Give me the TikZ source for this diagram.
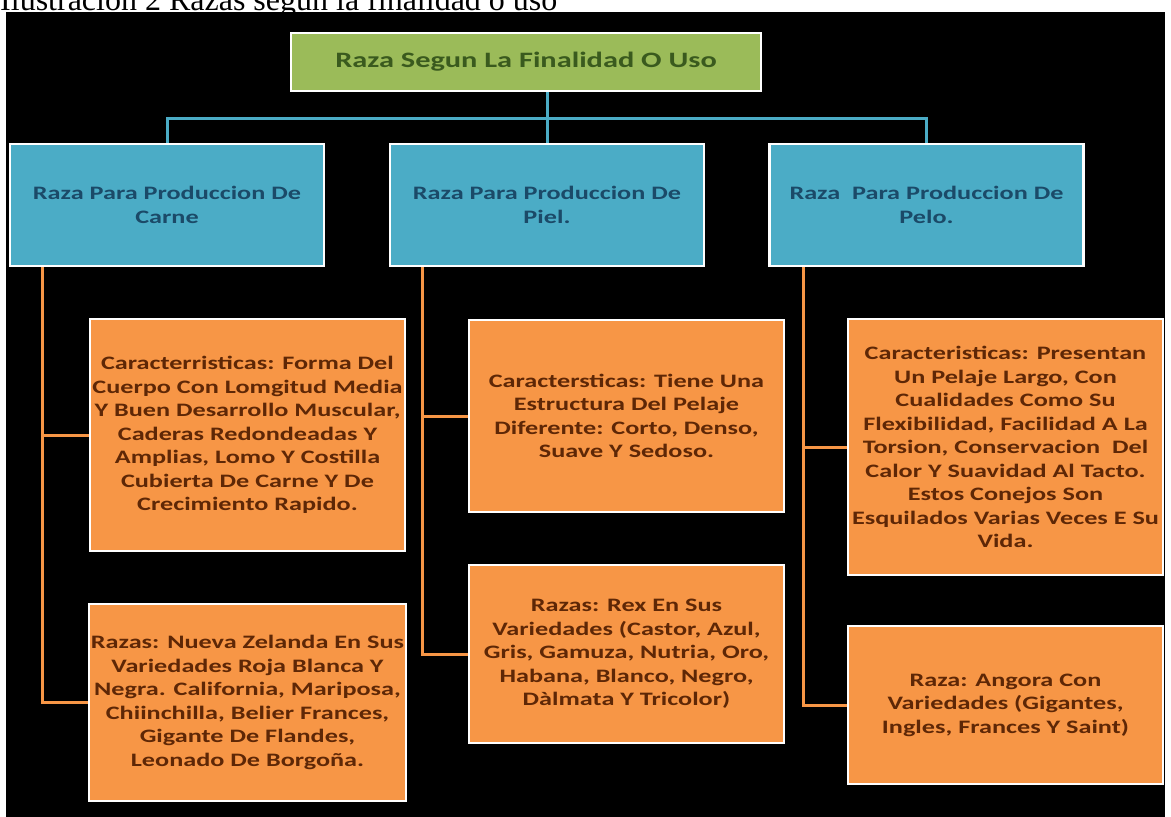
\documentclass[tikz,border=0pt]{standalone}
\usepackage{fontspec}
\newfontfamily\carl[FakeStretch=1.38]{Carlito}
\newfontfamily\capfont{Liberation Serif}
\definecolor{gfill}{HTML}{9BBB59}
\definecolor{bfill}{HTML}{4BACC6}
\definecolor{ofill}{HTML}{F79646}
\definecolor{gtext}{HTML}{3A5A1E}
\definecolor{btext}{HTML}{1B4A68}
\definecolor{otext}{HTML}{5E2706}
\tikzset{
  box/.style={rectangle, draw=white, line width=2.5pt, inner sep=2pt, align=center,
              font=\carl\bfseries\fontsize{19}{23.5}\selectfont},
  gbox/.style={box, fill=gfill, text=gtext, minimum width=470pt, minimum height=58pt,
               font=\carl\bfseries\fontsize{22}{26}\selectfont},
  bbox/.style={box, fill=bfill, text=btext, minimum width=314pt, minimum height=122pt},
  obox/.style={box, fill=ofill, text=otext, minimum width=315pt},
  bline/.style={draw=bfill, line width=3pt},
  oline/.style={draw=ofill, line width=3pt}
}
\begin{document}
\begin{tikzpicture}[x=1pt,y=-1pt]
\useasboundingbox (0,0) rectangle (1171,817);
\clip (0,0) rectangle (1171,817);
\fill[white] (0,0) rectangle (1171,817);
\node[anchor=base west, inner sep=0pt] (cap) at (0,10)
  {\capfont\fontsize{32}{36}\selectfont Ilustración 2 Razas según la finalidad o uso};
\fill[black] (6,12) rectangle (1165,817);

% nodes
\node[gbox] (g) at (526,62) {Raza Segun La Finalidad O Uso};
\node[bbox] (b1) at (167,205) {Raza Para Produccion De\\Carne};
\node[bbox] (b2) at (547,205) {Raza Para Produccion De\\Piel.};
\node[bbox] (b3) at (926.5,205) {Raza\ \ Para Produccion De\\Pelo.};

\node[obox, minimum height=232pt] (l1) at (247.5,435)
  {Caracterristicas: Forma Del\\Cuerpo Con Lomgitud Media\\Y Buen Desarrollo Muscular,\\Caderas Redondeadas Y\\Amplias, Lomo Y Costilla\\Cubierta De Carne Y De\\Crecimiento Rapido.};
\node[obox, minimum height=197pt] (l2) at (247.5,702.5)
  {Razas: Nueva Zelanda En Sus\\Variedades Roja Blanca Y\\Negra. California, Mariposa,\\Chiinchilla, Belier Frances,\\Gigante De Flandes,\\Leonado De Borgoña.};
\node[obox, minimum height=192pt] (m1) at (626.5,416)
  {Caractersticas: Tiene Una\\Estructura Del Pelaje\\Diferente: Corto, Denso,\\Suave Y Sedoso.};
\node[obox, minimum height=178pt] (m2) at (626.5,654)
  {Razas: Rex En Sus\\Variedades (Castor, Azul,\\Gris, Gamuza, Nutria, Oro,\\Habana, Blanco, Negro,\\Dàlmata Y Tricolor)};
\node[obox, minimum height=256pt] (r1) at (1005.5,447)
  {Caracteristicas: Presentan\\Un Pelaje Largo, Con\\Cualidades Como Su\\Flexibilidad, Facilidad A La\\Torsion, Conservacion\ \ Del\\Calor Y Suavidad Al Tacto.\\Estos Conejos Son\\Esquilados Varias Veces E Su\\Vida.};
\node[obox, minimum height=158pt] (r2) at (1005.5,705)
  {Raza: Angora Con\\Variedades (Gigantes,\\Ingles, Frances Y Saint)};

% blue connectors
\coordinate (hub) at (547,118);
\draw[bline] (g.south -| b2.north) -- (b2.north);
\draw[bline] (b1.north) |- (hub) -| (b3.north);

% orange connectors
\coordinate (t1) at ([xshift=34pt]b1.south west);
\coordinate (t2) at ([xshift=34pt]b2.south west);
\coordinate (t3) at ([xshift=35pt]b3.south west);
\draw[oline] (t1) |- (l1.west);
\draw[oline] (t1) |- (l2.west);
\draw[oline] (t2) |- (m1.west);
\draw[oline] (t2) |- (m2.west);
\draw[oline] (t3) |- (r1.west);
\draw[oline] (t3) |- (r2.west);
\end{tikzpicture}
\end{document}
